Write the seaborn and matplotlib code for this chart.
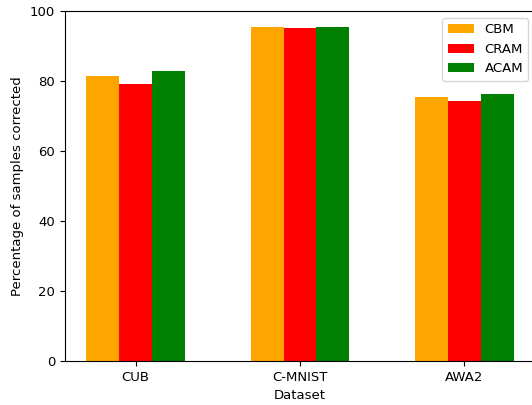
import pandas as pd
import matplotlib
matplotlib.use('Agg')
import matplotlib.pyplot as plt
import seaborn as sns

datasets = ['CUB', 'C-MNIST', 'AWA2']
models = ['CBM', 'CRAM', 'ACAM']
cbm = [81.4, 95.5, 75.5]
cram = [79.2, 95.2, 74.3]
acam = [82.8, 95.5, 76.3]
colors = ['orange', 'red', 'green']

df = pd.DataFrame({
    'Dataset': datasets * 3,
    'Model': ['CBM'] * 3 + ['CRAM'] * 3 + ['ACAM'] * 3,
    'Value': cbm + cram + acam,
})

plt.rcParams['font.size'] = 9.5

fig = plt.figure(figsize=(5.32, 4.05), dpi=100)
ax = fig.add_axes([65 / 532, 44 / 405, 470 / 532, 349.7 / 405])
sns.barplot(data=df, x='Dataset', y='Value', hue='Model', order=datasets,
            hue_order=models, palette=colors, width=0.6, linewidth=0,
            saturation=1, ax=ax)
ax.set_xlim(-0.43, 2.43)
ax.set_ylim(0, 100)
ax.set_xlabel('Dataset')
ax.set_ylabel('Percentage of samples corrected')
ax.legend(loc='upper right')
fig.savefig('out.png', dpi=100)
